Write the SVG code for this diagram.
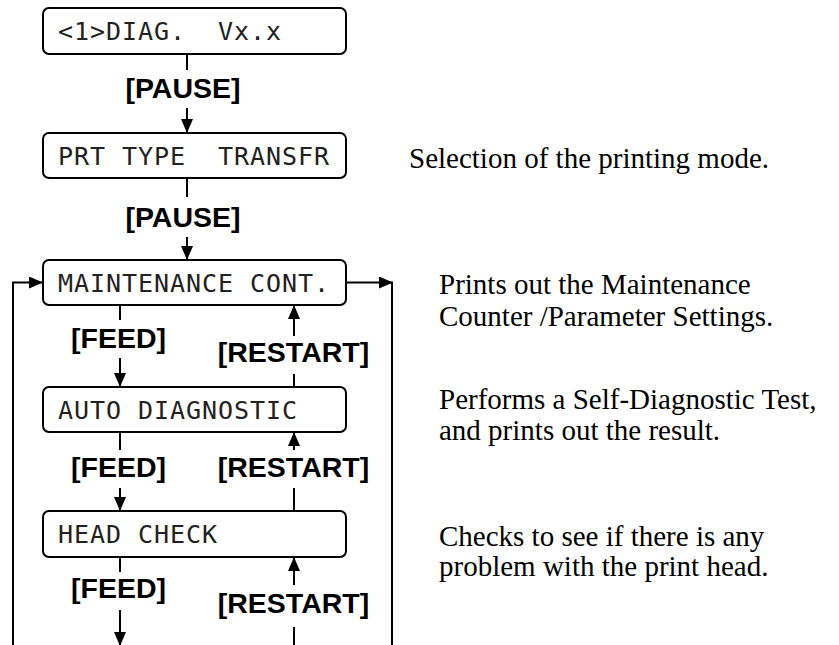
<svg xmlns="http://www.w3.org/2000/svg" width="839" height="645" viewBox="0 0 839 645">
<defs>
<style>
.box{fill:#fff;stroke:#000;stroke-width:2}
.lcd{font-family:"DejaVu Sans Mono","Liberation Mono",monospace;font-size:25px;letter-spacing:0.95px;fill:#222;white-space:pre}
.key{font-family:"Liberation Sans",Arial,sans-serif;font-weight:bold;font-size:28.5px;fill:#000;text-anchor:middle}
.desc{font-family:"Liberation Serif","Times New Roman",serif;font-size:29px;fill:#000}
.ln{fill:none;stroke:#000;stroke-width:2}
</style>
<marker id="ah" viewBox="0 0 14 12" refX="14" refY="6" markerWidth="14" markerHeight="12" orient="auto" markerUnits="userSpaceOnUse">
<path d="M0,0 L14,6 L0,12 z" fill="#000"/>
</marker>
</defs>
<rect width="839" height="645" fill="#fff"/>

<g id="connectors">
<line class="ln" x1="187" y1="54" x2="187" y2="70"/>
<line class="ln" x1="187" y1="108" x2="187" y2="133" marker-end="url(#ah)"/>
<line class="ln" x1="187" y1="178" x2="187" y2="197"/>
<line class="ln" x1="187" y1="237" x2="187" y2="260" marker-end="url(#ah)"/>
<line class="ln" x1="120" y1="305" x2="120" y2="320"/>
<line class="ln" x1="120" y1="358" x2="120" y2="387" marker-end="url(#ah)"/>
<line class="ln" x1="294" y1="387" x2="294" y2="374"/>
<line class="ln" x1="294" y1="336" x2="294" y2="305" marker-end="url(#ah)"/>
<line class="ln" x1="120" y1="432" x2="120" y2="450"/>
<line class="ln" x1="120" y1="488" x2="120" y2="511" marker-end="url(#ah)"/>
<line class="ln" x1="294" y1="511" x2="294" y2="488"/>
<line class="ln" x1="294" y1="450" x2="294" y2="432" marker-end="url(#ah)"/>
<line class="ln" x1="120" y1="557" x2="120" y2="572"/>
<line class="ln" x1="120" y1="610" x2="120" y2="646" marker-end="url(#ah)"/>
<line class="ln" x1="294" y1="645" x2="294" y2="627"/>
<line class="ln" x1="294" y1="585" x2="294" y2="557" marker-end="url(#ah)"/>
<polyline class="ln" points="13,645 13,282.5 43,282.5" marker-end="url(#ah)"/>
<line class="ln" x1="347" y1="282.5" x2="393" y2="282.5" marker-end="url(#ah)"/>
<line class="ln" x1="392" y1="282" x2="392" y2="645"/>
</g>

<g id="labels">
<text class="key" x="183" y="98">[PAUSE]</text>
<text class="key" x="183" y="227">[PAUSE]</text>
<text class="key" x="118.5" y="348">[FEED]</text>
<text class="key" x="293.5" y="362">[RESTART]</text>
<text class="key" x="118.5" y="477">[FEED]</text>
<text class="key" x="293.5" y="477">[RESTART]</text>
<text class="key" x="118.5" y="598">[FEED]</text>
<text class="key" x="293.5" y="613">[RESTART]</text>
</g>

<g id="node-diag">
<rect class="box" x="43" y="8" width="303" height="46" rx="6"/>
<text class="lcd" x="58" y="40" xml:space="preserve">&lt;1&gt;DIAG.  Vx.x</text>
</g>
<g id="node-prttype">
<rect class="box" x="43" y="133" width="303" height="45" rx="6"/>
<text class="lcd" x="58" y="165" xml:space="preserve">PRT TYPE  TRANSFR</text>
</g>
<g id="node-maint">
<rect class="box" x="43" y="260" width="303" height="45" rx="6"/>
<text class="lcd" x="58" y="292" xml:space="preserve">MAINTENANCE CONT.</text>
</g>
<g id="node-auto">
<rect class="box" x="43" y="387" width="303" height="45" rx="6"/>
<text class="lcd" x="58" y="419" xml:space="preserve">AUTO DIAGNOSTIC</text>
</g>
<g id="node-head">
<rect class="box" x="43" y="511" width="303" height="46" rx="6"/>
<text class="lcd" x="58" y="543" xml:space="preserve">HEAD CHECK</text>
</g>

<g id="descriptions">
<text class="desc" x="409" y="168">Selection of the printing mode.</text>
<text class="desc" x="439" y="294">Prints out the Maintenance</text>
<text class="desc" x="439" y="326">Counter /Parameter Settings.</text>
<text class="desc" x="439" y="409">Performs a Self-Diagnostic Test,</text>
<text class="desc" x="439" y="440">and prints out the result.</text>
<text class="desc" x="439" y="546">Checks to see if there is any</text>
<text class="desc" x="439" y="576">problem with the print head.</text>
</g>
</svg>
